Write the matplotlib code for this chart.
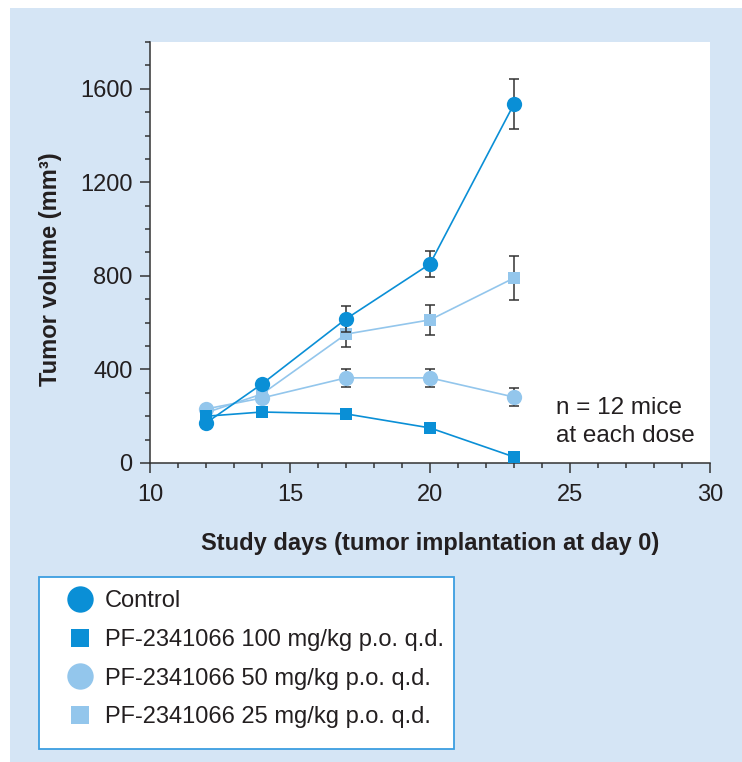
import numpy as np
import matplotlib
matplotlib.use('Agg')
import matplotlib.pyplot as plt
from matplotlib.lines import Line2D
from matplotlib.patches import Rectangle

plt.rcParams['font.family'] = ['Liberation Sans', 'DejaVu Sans']

# -----------------------------------------------------------------------------
# data
days = [12, 14, 17, 20, 23]

control = [171, 338, 616, 851, 1535]
control_err = [0, 0, 55, 55, 105]

dose100 = [200, 218, 210, 150, 26]
dose100_err = [0, 0, 0, 0, 0]

dose50 = [231, 278, 364, 364, 282]
dose50_err = [0, 0, 38, 38, 38]

dose25 = [215, 295, 551, 612, 791]
dose25_err = [0, 0, 55, 64, 96]

labels = ['Control',
          'PF-2341066 100 mg/kg p.o. q.d.',
          'PF-2341066 50 mg/kg p.o. q.d.',
          'PF-2341066 25 mg/kg p.o. q.d.']

DARK = '#0a8fd6'
LIGHT = '#93c6ec'
TXT = '#231f20'
PANEL = '#d5e5f5'

# -----------------------------------------------------------------------------
fig = plt.figure(figsize=(7.42, 7.62), dpi=100)
fig.patch.set_facecolor('white')
W, H = 742.0, 762.0
fig.patches.append(Rectangle((10 / W, 0), 1, 1 - 8 / H,
                             transform=fig.transFigure, facecolor=PANEL,
                             edgecolor='none', zorder=-10))
# legend box
fig.patches.append(Rectangle((39 / W, 1 - 749 / H), 415 / W, 172 / H,
                             transform=fig.transFigure, facecolor='white',
                             edgecolor='#3c9ee0', lw=1.3, zorder=-5))

ax = fig.add_axes([150 / W, 1 - 463 / H, 560 / W, 421 / H])
ax.set_facecolor('white')

series = [
    (dose25, dose25_err, 's', LIGHT, 8),
    (dose50, dose50_err, 'o', LIGHT, 11),
    (dose100, dose100_err, 's', DARK, 8),
    (control, control_err, 'o', DARK, 11),
]

z = 3
for vals, err, mk, col, ms in series:
    x = np.array(days)
    y = np.array(vals)
    e = np.array(err)
    keep = e > 0
    if keep.any():
        ax.errorbar(x[keep], y[keep], yerr=e[keep], fmt='none',
                    ecolor='#333333', elinewidth=1.1, capsize=3.3,
                    capthick=1.1, zorder=z)
    ax.plot(x, y, color=col, lw=1.2, marker=mk, markersize=ms,
            markeredgewidth=0, zorder=z + 1)
    z += 2

ax.set_xlim(10, 30)
ax.set_ylim(0, 1800)
ax.set_xticks([10, 15, 20, 25, 30])
ax.set_xticks(np.arange(10, 31, 1), minor=True)
ax.set_yticks([0, 400, 800, 1200, 1600])
ax.set_yticks(np.arange(0, 1801, 100), minor=True)

for s in ['top', 'right']:
    ax.spines[s].set_visible(False)
for s in ['left', 'bottom']:
    ax.spines[s].set_color('#333333')
    ax.spines[s].set_linewidth(1.1)

ax.tick_params(which='major', direction='out', length=7, width=1.1,
               color='#333333', labelsize=17, labelcolor=TXT)
ax.tick_params(axis='y', which='major', pad=5.5)
ax.tick_params(axis='x', which='major', pad=8)
ax.tick_params(which='minor', direction='out', length=3.6, width=1.1,
               color='#333333')

ax.set_ylabel('Tumor volume (mm\u00b3)', fontsize=17, fontweight='bold',
              color=TXT)
ax.yaxis.set_label_coords(-0.157, 0.461)
ax.set_xlabel('Study days (tumor implantation at day 0)', fontsize=17,
              fontweight='bold', color=TXT)
ax.xaxis.set_label_coords(0.5, -0.165)

ax.text(24.5, 176, 'n = 12 mice\nat each dose', fontsize=17.5, color=TXT,
        ha='left', va='center', linespacing=1.32)

# legend with bigger markers than in the plot
handles = [
    Line2D([], [], ls='none', marker='o', color=DARK, markersize=19,
           markeredgewidth=0),
    Line2D([], [], ls='none', marker='s', color=DARK, markersize=13,
           markeredgewidth=0),
    Line2D([], [], ls='none', marker='o', color=LIGHT, markersize=19,
           markeredgewidth=0),
    Line2D([], [], ls='none', marker='s', color=LIGHT, markersize=13,
           markeredgewidth=0),
]
leg = fig.legend(handles, labels, loc='upper left',
                 bbox_to_anchor=(61 / W, 1 - 590 / H), frameon=False,
                 fontsize=17, labelspacing=0.71, handletextpad=0.26,
                 borderpad=0, borderaxespad=0, handlelength=1.6)
for t in leg.get_texts():
    t.set_color(TXT)

fig.savefig('out.png', dpi=100, facecolor=fig.get_facecolor())
